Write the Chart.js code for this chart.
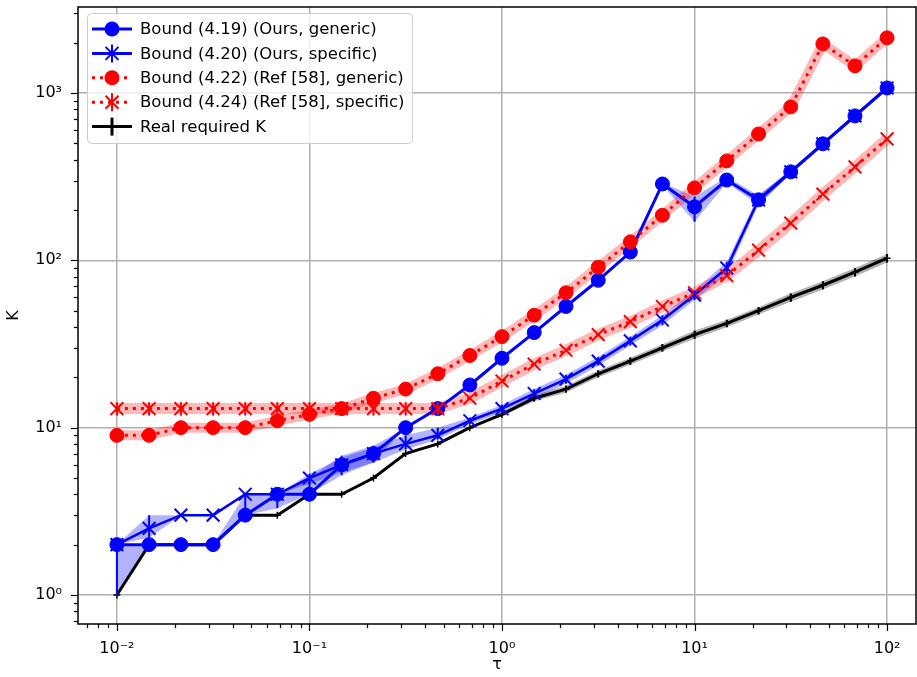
<!DOCTYPE html>
<html lang="en">
<head>
    <meta charset="UTF-8">
    <title>Required K vs tau</title>
    <style>
        body {
            margin: 0;
            background-color: white;
        }
        #wrap {
            width: 917px;
            height: 677px;
        }
    </style>
</head>
<body>
    <div id="wrap">
        <canvas id="grafico" width="917" height="677"></canvas>
    </div>

    <script src="https://cdn.jsdelivr.net/npm/chart.js"></script>

    <script>
        // tau values (x axis)
        const tau = [0.01, 0.0147, 0.0215, 0.0316, 0.0464, 0.0681, 0.1, 0.147, 0.215, 0.316, 0.464, 0.681,
                     1, 1.47, 2.15, 3.16, 4.64, 6.81, 10, 14.7, 21.5, 31.6, 46.4, 68.1, 100];

        // Bound (4.19) (Ours, generic)
        const oursGeneric   = [2, 2, 2, 2, 3, 4, 4, 6, 7, 10, 13, 18, 26, 37, 53, 76, 112, 286, 209, 302, 230, 338, 497, 730, 1072];
        const oursGenericLo = [1, 2, 2, 2, 3, 3.3, 4, 5.2, 6.2, 10, 13, 18, 26, 37, 53, 76, 112, 280, 170, 290, 215, 328, 482, 710, 1040];
        const oursGenericHi = [2, 2, 2, 2, 4, 4, 5, 6.8, 7.8, 10, 13, 18, 26, 37, 53, 76, 112, 292, 240, 315, 245, 348, 512, 750, 1100];

        // Bound (4.20) (Ours, specific)
        const oursSpecific   = [2, 2.5, 3, 3, 4, 4, 5, 6, 7, 8, 9, 11, 13, 16, 19.5, 25, 33, 44, 62, 90, 230, 338, 497, 730, 1072];
        const oursSpecificLo = [2, 2.2, 3, 3, 4, 4, 4.6, 5.4, 6.2, 7.4, 8.5, 10.5, 12.3, 15, 18.3, 23.5, 31, 41, 58, 82, 215, 328, 482, 710, 1040];
        const oursSpecificHi = [2, 3, 3, 3, 4, 4, 5.3, 6.6, 7.6, 9, 10, 11.5, 13.7, 17, 20.7, 26.5, 35, 47, 66, 98, 245, 348, 512, 750, 1100];

        // Bound (4.22) (Ref [58], generic)
        const refGeneric = [9, 9, 10, 10, 10, 11, 12, 13, 15, 17, 21, 27, 35, 47, 64, 91, 129, 186, 271, 393, 569, 826, 1965, 1452, 2137];

        // Bound (4.24) (Ref [58], specific)
        const refSpecific   = [13, 13, 13, 13, 13, 13, 13, 13, 13, 13, 13, 15, 19, 24, 29, 36, 43, 53, 64, 81, 115, 167, 249, 362, 532];
        const refSpecificLo = [11.8, 11.8, 11.8, 11.8, 11.8, 11.8, 11.8, 11.8, 11.8, 11.8, 11.8, 15, 19, 24, 29, 36, 43, 53, 64, 81, 115, 167, 249, 362, 532];
        const refSpecificHi = [14.2, 14.2, 14.2, 14.2, 14.2, 14.2, 14.2, 14.2, 14.2, 14.2, 14.2, 15, 19, 24, 29, 36, 43, 53, 64, 81, 115, 167, 249, 362, 532];

        // Real required K
        const realK   = [1, 2, 2, 2, 3, 3, 4, 4, 5, 7, 8, 10, 12, 15, 17, 21, 25, 30, 36, 42, 50, 60, 71, 85, 103];
        const realKLo = [1, 2, 2, 2, 3, 3, 4, 4, 5, 7, 8, 10, 11.7, 14.4, 16.2, 20, 23.8, 28.5, 34, 39.8, 47.5, 56.5, 67, 80, 97];
        const realKHi = [1, 2, 2, 2, 3, 3, 4, 4, 5, 7, 8, 10, 12.3, 15.6, 17.8, 22, 26.2, 31.5, 38, 44.2, 52.5, 63.5, 75, 90, 109];

        const legendLabels = ['Bound (4.19) (Ours, generic)', 'Bound (4.20) (Ours, specific)',
                              'Bound (4.22) (Ref [58], generic)', 'Bound (4.24) (Ref [58], specific)',
                              'Real required K'];

        const FONT = "'DejaVu Sans', sans-serif";
        const BLUE = '#0000ff';
        const RED = '#ff0000';

        function pts(arr) {
            return tau.map((t, i) => ({ x: t, y: arr[i] }));
        }

        function isMajor(v) {
            const l = Math.log10(v);
            return Math.abs(l - Math.round(l)) < 1e-6;
        }

        const supers = { '-': '⁻', '0': '⁰', '1': '¹', '2': '²', '3': '³' };
        function powLabel(v) {
            const e = String(Math.round(Math.log10(v)));
            return '10' + e.split('').map(c => supers[c]).join('');
        }

        function logTicks(scale, fromExp, toExp) {
            const ticks = [];
            for (let e = fromExp; e <= toExp; e++) {
                for (let m = 1; m <= 9; m++) {
                    const v = m * Math.pow(10, e);
                    if (v >= scale.min && v <= scale.max) ticks.push({ value: v, major: m === 1 });
                }
            }
            scale.ticks = ticks;
        }

        // kill the extra room chart.js keeps for edge labels
        function fitTo(scale, size) {
            if (scale.isHorizontal()) scale.height = size;
            else scale.width = size;
            scale.paddingTop = 0;
            scale.paddingBottom = 0;
            scale.paddingLeft = 0;
            scale.paddingRight = 0;
        }

        function bandSet(arr, fill, color) {
            return {
                data: pts(arr),
                borderWidth: 0,
                pointRadius: 0,
                fill: fill,
                backgroundColor: color,
                order: 20
            };
        }

        const datasets = [
            bandSet(oursGenericLo, false, 'transparent'),
            bandSet(oursGenericHi, '-1', 'rgba(0,0,255,0.3)'),
            bandSet(oursSpecificLo, false, 'transparent'),
            bandSet(oursSpecificHi, '-1', 'rgba(0,0,255,0.3)'),
            bandSet(realKLo, false, 'transparent'),
            bandSet(realKHi, '-1', 'rgba(0,0,0,0.3)'),
            // pale halo of the red curves
            { data: pts(refGeneric), borderColor: 'rgba(255,0,0,0.28)', borderWidth: 10, pointRadius: 0, fill: false, order: 15 },
            { data: pts(refSpecific), borderColor: 'rgba(255,0,0,0.28)', borderWidth: 11, pointRadius: 0, fill: false, order: 15 },
            // main curves
            { label: legendLabels[4], data: pts(realK), borderColor: 'black', borderWidth: 3, pointStyle: 'cross',
              pointRadius: 3.5, pointBorderWidth: 1.5, pointBorderColor: 'black', fill: false, order: 5 },
            { label: legendLabels[0], data: pts(oursGeneric), borderColor: BLUE, borderWidth: 3, pointStyle: 'circle',
              pointRadius: 7, pointBackgroundColor: BLUE, pointBorderColor: BLUE, pointBorderWidth: 1, fill: false, order: 4 },
            { label: legendLabels[1], data: pts(oursSpecific), borderColor: BLUE, borderWidth: 2.5, pointStyle: 'crossRot',
              pointRadius: 9, pointBorderColor: BLUE, pointBorderWidth: 2, fill: false, order: 3 },
            { label: legendLabels[2], data: pts(refGeneric), borderColor: RED, borderWidth: 3, borderDash: [3, 5],
              pointStyle: 'circle', pointRadius: 7, pointBackgroundColor: RED, pointBorderColor: RED, pointBorderWidth: 1,
              fill: false, order: 2 },
            { label: legendLabels[3], data: pts(refSpecific), borderColor: RED, borderWidth: 3, borderDash: [3, 5],
              pointStyle: 'crossRot', pointRadius: 9, pointBorderColor: RED, pointBorderWidth: 2, fill: false, order: 1 }
        ];

        const errorBars = [
            { lo: oursGenericLo, hi: oursGenericHi, color: BLUE },
            { lo: oursSpecificLo, hi: oursSpecificHi, color: BLUE },
            { lo: refSpecificLo, hi: refSpecificHi, color: RED },
            { lo: realKLo, hi: realKHi, color: 'black' }
        ];

        // error bars, frame, ticks, legend
        const extras = {
            id: 'extras',
            afterDatasetsDraw(chart) {
                const { ctx, chartArea: ca, scales: { x, y } } = chart;
                ctx.save();
                ctx.beginPath();
                ctx.rect(ca.left, ca.top, ca.right - ca.left, ca.bottom - ca.top);
                ctx.clip();
                ctx.lineWidth = 2;
                errorBars.forEach(eb => {
                    ctx.strokeStyle = eb.color;
                    tau.forEach((t, i) => {
                        if (eb.hi[i] === eb.lo[i]) return;
                        const px = x.getPixelForValue(t);
                        ctx.beginPath();
                        ctx.moveTo(px, y.getPixelForValue(eb.lo[i]));
                        ctx.lineTo(px, y.getPixelForValue(eb.hi[i]));
                        ctx.stroke();
                    });
                });
                ctx.restore();
            },
            afterDraw(chart) {
                const { ctx, chartArea: ca, scales: { x, y } } = chart;
                ctx.save();
                // frame
                ctx.strokeStyle = 'black';
                ctx.lineWidth = 1.5;
                ctx.strokeRect(ca.left, ca.top, ca.right - ca.left, ca.bottom - ca.top);
                // ticks
                ctx.lineWidth = 1.2;
                x.ticks.forEach(t => {
                    const px = Math.round(x.getPixelForValue(t.value)) + 0.5;
                    const len = t.major ? 7 : 4;
                    ctx.beginPath();
                    ctx.moveTo(px, ca.bottom);
                    ctx.lineTo(px, ca.bottom + len);
                    ctx.stroke();
                });
                y.ticks.forEach(t => {
                    const py = Math.round(y.getPixelForValue(t.value)) + 0.5;
                    const len = t.major ? 7 : 4;
                    ctx.beginPath();
                    ctx.moveTo(ca.left, py);
                    ctx.lineTo(ca.left - len, py);
                    ctx.stroke();
                });

                // legend
                const bx = ca.left + 9, by = ca.top + 6, bw = 325, bh = 130;
                ctx.fillStyle = 'rgba(255,255,255,0.8)';
                ctx.strokeStyle = '#cccccc';
                ctx.lineWidth = 1;
                ctx.beginPath();
                ctx.roundRect(bx + 0.5, by + 0.5, bw, bh, 4);
                ctx.fill();
                ctx.stroke();

                const rowH = 24.4;
                const x0 = bx + 5, x1 = bx + 45, xm = bx + 25;
                ctx.font = '16.5px ' + FONT;
                ctx.textBaseline = 'middle';
                const styles = [
                    { color: BLUE, dash: [], marker: 'circle', bar: false },
                    { color: BLUE, dash: [], marker: 'x', bar: true },
                    { color: RED, dash: [3, 5], marker: 'circle', bar: false },
                    { color: RED, dash: [3, 5], marker: 'x', bar: true },
                    { color: 'black', dash: [], marker: 'none', bar: true }
                ];
                styles.forEach((s, i) => {
                    const ry = by + 16 + i * rowH;
                    ctx.strokeStyle = s.color;
                    ctx.fillStyle = s.color;
                    ctx.lineWidth = 3;
                    ctx.setLineDash(s.dash);
                    ctx.beginPath();
                    ctx.moveTo(x0, ry);
                    ctx.lineTo(x1, ry);
                    ctx.stroke();
                    ctx.setLineDash([]);
                    if (s.marker === 'circle') {
                        ctx.beginPath();
                        ctx.arc(xm, ry, 7.5, 0, Math.PI * 2);
                        ctx.fill();
                    } else if (s.marker === 'x') {
                        ctx.lineWidth = 2;
                        ctx.beginPath();
                        ctx.moveTo(xm - 6.5, ry - 6.5);
                        ctx.lineTo(xm + 6.5, ry + 6.5);
                        ctx.moveTo(xm - 6.5, ry + 6.5);
                        ctx.lineTo(xm + 6.5, ry - 6.5);
                        ctx.stroke();
                    }
                    if (s.bar) {
                        ctx.lineWidth = s.color === 'black' ? 3 : 2;
                        ctx.beginPath();
                        ctx.moveTo(xm, ry - 9);
                        ctx.lineTo(xm, ry + 9);
                        ctx.stroke();
                    }
                    ctx.fillStyle = 'black';
                    ctx.fillText(legendLabels[i], bx + 53, ry + 1);
                });
                ctx.restore();
            }
        };

        const ctx = document.getElementById('grafico').getContext('2d');
        const grafico = new Chart(ctx, {
            type: 'line',
            data: { datasets: datasets },
            options: {
                responsive: false,
                animation: false,
                devicePixelRatio: 1,
                layout: { autoPadding: false, padding: { top: 7, right: 1, left: 0, bottom: 0 } },
                elements: { line: { tension: 0 } },
                plugins: {
                    legend: { display: false },
                    tooltip: { enabled: false }
                },
                scales: {
                    x: {
                        type: 'logarithmic',
                        min: 0.00628,
                        max: 141.3,
                        afterBuildTicks: s => logTicks(s, -3, 2),
                        afterFit: s => fitTo(s, 53),
                        border: { display: false },
                        grid: {
                            drawTicks: false,
                            lineWidth: 1.5,
                            color: c => (c.tick && isMajor(c.tick.value)) ? '#b0b0b0' : 'rgba(0,0,0,0)'
                        },
                        ticks: {
                            autoSkip: false,
                            maxRotation: 0,
                            padding: 15,
                            color: 'black',
                            font: { family: FONT, size: 16 },
                            callback: v => isMajor(v) ? powLabel(v) : ''
                        },
                        title: {
                            display: true,
                            text: 'τ',
                            color: 'black',
                            font: { family: FONT, size: 16 },
                            padding: { top: 0, bottom: 3 }
                        }
                    },
                    y: {
                        type: 'logarithmic',
                        min: 0.671,
                        max: 3266,
                        afterBuildTicks: s => logTicks(s, -1, 3),
                        afterFit: s => fitTo(s, 78),
                        border: { display: false },
                        grid: {
                            drawTicks: false,
                            lineWidth: 1.5,
                            color: c => (c.tick && isMajor(c.tick.value)) ? '#b0b0b0' : 'rgba(0,0,0,0)'
                        },
                        ticks: {
                            autoSkip: false,
                            padding: 16,
                            color: 'black',
                            font: { family: FONT, size: 16 },
                            callback: v => isMajor(v) ? powLabel(v) : ''
                        },
                        title: {
                            display: true,
                            text: 'K',
                            color: 'black',
                            font: { family: FONT, size: 16 },
                            padding: { top: 4, bottom: 0 }
                        }
                    }
                }
            },
            plugins: [extras]
        });
    </script>
</body>
</html>
